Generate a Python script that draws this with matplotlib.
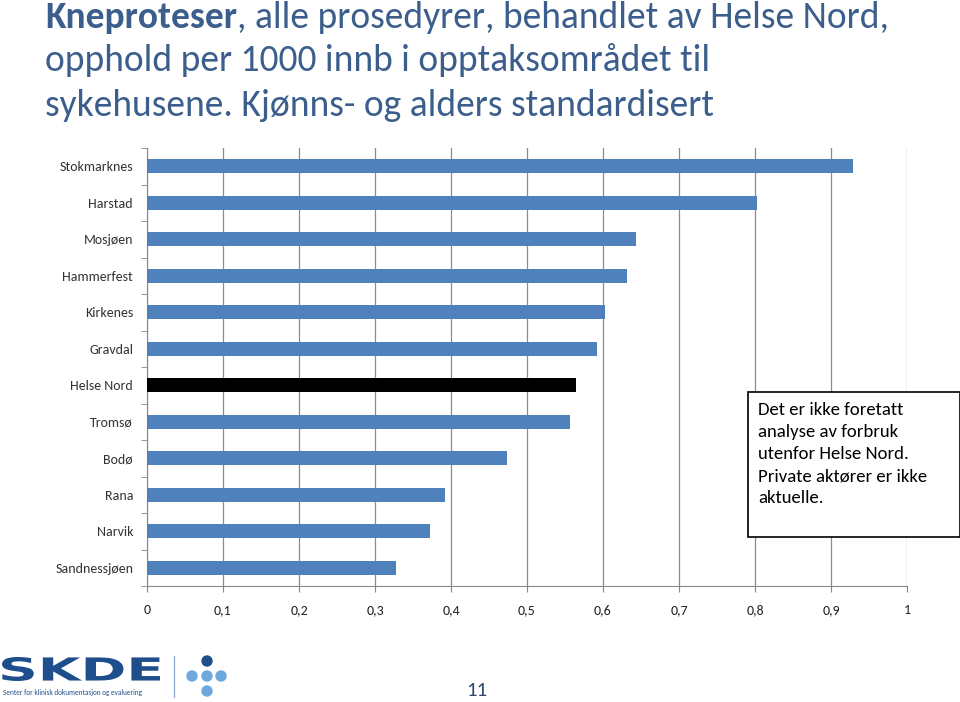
import matplotlib
matplotlib.use("Agg")
import matplotlib.pyplot as plt
from matplotlib.textpath import TextPath
from matplotlib.patches import PathPatch, Circle, Rectangle
from matplotlib.font_manager import FontProperties
from matplotlib.transforms import Affine2D

plt.rcParams['font.family'] = ['Carlito', 'Lato', 'DejaVu Sans']

# data
sykehus = ["Stokmarknes", "Harstad", "Mosjøen", "Hammerfest", "Kirkenes", "Gravdal",
           "Helse Nord", "Tromsø", "Bodø", "Rana", "Narvik", "Sandnessjøen"]
rater = [0.929, 0.803, 0.644, 0.632, 0.602, 0.592, 0.565, 0.556, 0.474, 0.392, 0.372, 0.328]
x_ticks = [0, 0.1, 0.2, 0.3, 0.4, 0.5, 0.6, 0.7, 0.8, 0.9, 1]
x_labels = ["0", "0,1", "0,2", "0,3", "0,4", "0,5", "0,6", "0,7", "0,8", "0,9", "1"]

W, H = 960, 702
fig = plt.figure(figsize=(W / 100, H / 100), dpi=100)

blue = "#4F81BD"
colors = ["black" if s == "Helse Nord" else blue for s in sykehus]

ax = fig.add_axes([147 / W, 1 - 586 / H, 760 / W, 438 / H])
ypos = list(range(len(sykehus)))
ax.barh(ypos, rater, height=0.39, color=colors, zorder=3)
ax.set_ylim(len(sykehus) - 0.5, -0.5)
ax.set_xlim(0, 1)
ax.set_xticks(x_ticks)
ax.set_xticklabels(x_labels, fontsize=10, color="#222222")
ax.set_yticks(ypos)
ax.set_yticklabels(sykehus, fontsize=10, color="#333333")
ax.set_yticks([i - 0.5 for i in range(len(sykehus) + 1)], minor=True)
ax.tick_params(axis="y", which="major", length=0, pad=10)
ax.tick_params(axis="y", which="minor", length=4, color="#888888", direction="out")
ax.tick_params(axis="x", length=4, color="#888888", pad=9)
ax.grid(axis="x", color="#8c8c8c", linewidth=0.9, zorder=0)
for side in ["top", "right"]:
    ax.spines[side].set_visible(False)
for side in ["left", "bottom"]:
    ax.spines[side].set_color("#888888")

# overlay in pixel coords
ov = fig.add_axes([0, 0, 1, 1], zorder=5)
ov.set_xlim(0, W)
ov.set_ylim(H, 0)
ov.axis("off")
ov.patch.set_alpha(0)

tcol = "#3B5E8C"
tsize = 27
t1 = ov.text(45, 17, "Kneproteser", fontsize=tsize, color=tcol, fontweight="bold", va="center")
fig.canvas.draw()
bb = t1.get_window_extent()
ov.text(bb.x1, 17, ", alle prosedyrer, behandlet av Helse Nord,", fontsize=tsize,
        color=tcol, va="center")
ov.text(45, 60, "opphold per 1000 innb i opptaksområdet til", fontsize=tsize, color=tcol, va="center")
ov.text(45, 105, "sykehusene. Kjønns- og alders standardisert", fontsize=tsize, color=tcol, va="center")

# note box
ov.add_patch(Rectangle((748, 392), 212, 145, facecolor="white", edgecolor="black", linewidth=1.2))
ov.text(758, 402, "Det er ikke foretatt\nanalyse av forbruk\nutenfor Helse Nord.\nPrivate aktører er ikke\naktuelle.",
        fontsize=13.5, va="top", ha="left", linespacing=1.47, color="black")

# logo
tp = TextPath((0, 0), "SKDE", size=10, prop=FontProperties(family="DejaVu Sans", weight="bold"))
ext = tp.get_extents()
sx = (160 - 2) / ext.width
sy = (681 - 657) / ext.height
tr = Affine2D().translate(-ext.x0, -ext.y0).scale(sx, -sy).translate(2, 681)
ov.add_patch(PathPatch(tr.transform_path(tp), facecolor="#1F4E8C", edgecolor="none"))
ov.text(3, 693, "Senter for klinisk dokumentasjon og evaluering", fontsize=5.2,
        color="#1F4E8C", va="center", ha="left")
ov.plot([174, 174], [656, 697], color="#8FAFD6", linewidth=1)
ov.add_patch(Circle((207, 661), 5, color="#1F4E8C"))
for cx, cy in [(192, 676), (207, 676), (221, 676), (207, 691)]:
    ov.add_patch(Circle((cx, cy), 5, color="#6FA8DC"))
ov.text(477, 690, "11", fontsize=15, color="#2E4A6E", ha="center", va="center")

fig.savefig("out.png", dpi=100)
